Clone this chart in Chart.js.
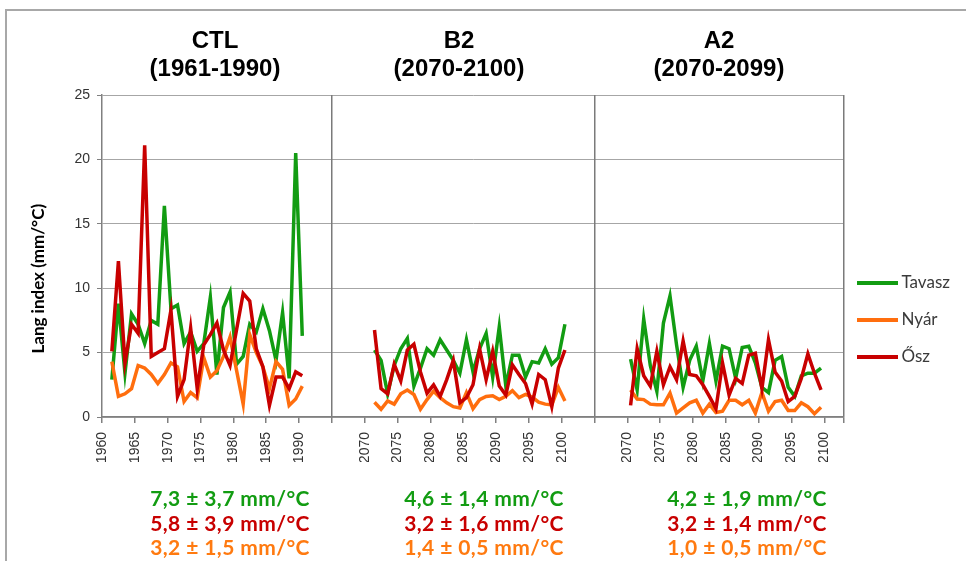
<!DOCTYPE html>
<html><head><meta charset="utf-8">
<script src="https://cdn.jsdelivr.net/npm/chart.js@4.4.1/dist/chart.umd.min.js"></script>
<style>
html,body{margin:0;padding:0;background:#fff;}
#wrap{position:relative;width:966px;height:561px;overflow:hidden;background:#fff;}
#frame{position:absolute;left:5px;top:9px;width:980px;height:600px;border-top:2px solid #a8a8a8;border-left:2px solid #a8a8a8;}
#c{position:absolute;left:0;top:0;}
.ttl{position:absolute;top:26px;width:220px;text-align:center;font-family:"Liberation Sans",Arial,sans-serif;font-weight:bold;font-size:24px;line-height:28px;color:#000;}
.stats{position:absolute;top:486px;width:260px;text-align:center;font-family:Lato,sans-serif;font-weight:bold;font-size:21px;letter-spacing:0.4px;line-height:24.5px;}
</style></head>
<body><div id="wrap"><div id="frame"></div><canvas id="c" width="966" height="561"></canvas></div>
<script>
// ---- data ----
const ctlYears = [1961,1962,1963,1964,1965,1966,1967,1968,1969,1970,1971,1972,1973,1974,1975,1976,1977,1978,1979,1980,1981,1982,1983,1984,1985,1986,1987,1988,1989,1990];
const b2Years  = [2071,2072,2073,2074,2075,2076,2077,2078,2079,2080,2081,2082,2083,2084,2085,2086,2087,2088,2089,2090,2091,2092,2093,2094,2095,2096,2097,2098,2099,2100];
const a2Years  = [2070,2071,2072,2073,2074,2075,2076,2077,2078,2079,2080,2081,2082,2083,2084,2085,2086,2087,2088,2089,2090,2091,2092,2093,2094,2095,2096,2097,2098,2099];

const ctlTavasz = [2.9,8.8,3.4,8.0,7.2,5.7,7.5,7.2,16.4,8.4,8.7,5.7,6.6,5.1,5.7,9.3,3.3,8.5,9.7,4.1,4.7,7.2,6.6,8.4,6.7,4.4,8.1,3.0,20.5,6.3];
const ctlNyar   = [4.3,1.6,1.8,2.2,4.0,3.8,3.3,2.6,3.3,4.2,3.9,1.2,1.9,1.5,4.6,3.1,3.6,4.7,6.2,3.6,1.0,6.4,5.0,3.9,2.2,4.3,3.7,0.9,1.4,2.4];
const ctlOsz    = [5.1,12.1,4.2,7.2,6.5,21.1,4.7,5.0,5.3,8.3,1.6,2.9,6.9,2.2,5.6,6.4,7.3,5.2,4.0,6.8,9.6,9.0,5.3,3.9,0.9,3.1,3.1,2.2,3.5,3.2];

const b2Tavasz = [5.2,4.4,1.8,4.0,5.3,6.1,2.4,3.8,5.3,4.8,6.0,5.2,4.4,3.4,6.0,3.5,5.3,6.5,3.1,7.0,2.4,4.8,4.8,3.1,4.3,4.2,5.3,4.1,4.6,7.2];
const b2Nyar   = [1.15,0.6,1.25,1.0,1.8,2.1,1.75,0.6,1.35,2.0,1.5,1.1,0.8,0.7,1.9,0.65,1.35,1.6,1.65,1.35,1.6,2.05,1.5,1.75,1.55,1.15,1.0,0.95,2.3,1.25];
const b2Osz    = [6.75,2.2,1.8,4.1,2.8,5.2,5.65,3.5,1.85,2.5,1.6,2.9,4.4,1.1,1.5,2.5,5.3,2.9,5.1,2.4,1.7,4.05,3.3,2.6,1.0,3.3,2.9,0.8,3.8,5.2];

const a2Tavasz = [4.5,2.1,7.6,4.0,2.0,7.3,9.4,5.6,2.3,4.4,5.5,2.8,5.7,2.8,5.5,5.3,3.0,5.4,5.5,4.2,2.3,1.9,4.4,4.7,2.3,1.6,3.2,3.4,3.4,3.8];
const a2Nyar   = [2.1,1.4,1.35,1.0,0.95,0.95,1.85,0.3,0.7,1.1,1.3,0.3,1.0,0.35,0.45,1.3,1.3,0.95,1.3,0.3,1.9,0.45,1.2,1.3,0.5,0.5,1.1,0.8,0.25,0.75];
const a2Osz    = [0.9,5.3,3.2,2.4,5.1,2.5,3.9,2.9,5.9,3.3,3.2,2.5,1.6,0.65,4.2,1.7,3.0,2.6,4.8,4.95,2.2,6.0,3.5,2.8,1.2,1.6,3.0,4.9,3.4,2.1];

const seriesNames = ['Tavasz','Nyár','Ősz'];
const ctlTickLabels = [1960,1965,1970,1975,1980,1985,1990];
const futTickLabels = [2070,2075,2080,2085,2090,2095,2100];
const yTickValues = [0,5,10,15,20,25];
const panelTitles = [['CTL','(1961-1990)'],['B2','(2070-2100)'],['A2','(2070-2099)']];
const statTexts = [
  ['7,3 ± 3,7 mm/°C','5,8 ± 3,9 mm/°C','3,2 ± 1,5 mm/°C'],
  ['4,6 ± 1,4 mm/°C','3,2 ± 1,6 mm/°C','1,4 ± 0,5 mm/°C'],
  ['4,2 ± 1,9 mm/°C','3,2 ± 1,4 mm/°C','1,0 ± 0,5 mm/°C']
];
const yTitle = 'Lang index (mm/°C)';

// ---- styles / layout ----
const seriesColors = ['#129c12','#ff6e0e','#c80000'];
const statColors = ['#129c12','#c80000','#ff7a10'];
const panels = [
  {id:'xCTL', years:ctlYears, series:[ctlTavasz,ctlNyar,ctlOsz], min:1960, max:1995, labels:ctlTickLabels, titleX:215, statX:230},
  {id:'xB2',  years:b2Years,  series:[b2Tavasz,b2Nyar,b2Osz],    min:2065, max:2105, labels:futTickLabels, titleX:459, statX:484},
  {id:'xA2',  years:a2Years,  series:[a2Tavasz,a2Nyar,a2Osz],    min:2065, max:2103, labels:futTickLabels, titleX:719, statX:747}
];

const wrap = document.getElementById('wrap');
panels.forEach((p,i)=>{
  const t = document.createElement('div');
  t.className='ttl'; t.style.left=(p.titleX-110)+'px';
  t.innerHTML = panelTitles[i][0]+'<br>'+panelTitles[i][1];
  wrap.appendChild(t);
  const s = document.createElement('div');
  s.className='stats'; s.style.left=(p.statX-130)+'px';
  s.innerHTML = statTexts[i].map((tx,k)=>'<div style="color:'+statColors[k]+'">'+tx+'</div>').join('');
  wrap.appendChild(s);
});

function lineIcon(color){
  const c=document.createElement('canvas'); c.width=43; c.height=4;
  const g=c.getContext('2d'); g.fillStyle=color; g.fillRect(0,0,41,4); return c;
}
const icons = seriesColors.map(lineIcon);

const legendFontSize = 17;
const mctx = document.createElement('canvas').getContext('2d');
mctx.font = legendFontSize + 'px Lato';
const maxText = Math.max(...seriesNames.map(n=>mctx.measureText(n).width));
const legendPad = 20, legendBoxW = 29;
const legendWidth = legendPad + legendBoxW + legendFontSize/2 + maxText + 10;
const plotRight = 844;
const padRight = Math.max(0, 966 - plotRight - legendWidth);

// shift the rotated y title toward the bottom (as in the original)
mctx.font = 'bold 17px Lato';
const spaceW = mctx.measureText('\u00a0').width || 3.4;
const yTitleText = yTitle + '\u00a0'.repeat(Math.round(44 / spaceW));

const datasets = [];
panels.forEach(p=>{
  p.series.forEach((vals,s)=>{
    datasets.push({
      label: seriesNames[s],
      data: p.years.map((yr,i)=>({x: yr+0.5, y: vals[i]})),
      xAxisID: p.id, yAxisID:'y',
      borderColor: seriesColors[s], backgroundColor: seriesColors[s],
      borderWidth: 3.5, pointRadius: 0, pointHoverRadius: 0, tension: 0,
      order: 2 - s
    });
  });
});

const scales = {
  y: {
    position:'left', min:0, max:25,
    afterBuildTicks: ax => { ax.ticks = yTickValues.map(v=>({value:v})); },
    afterFit: sc => { sc.width = 82; },
    ticks:{ font:{family:'Liberation Sans', size:14}, color:'#333', padding:7 },
    grid:{ color:'#a6a6a6', lineWidth:1, tickLength:5, tickColor:'#808080' },
    border:{ display:true, color:'#808080', width:1.5 },
    title:{ display:true, text:yTitleText, font:{family:'Lato', size:17, weight:'bold'}, color:'#000', padding:{top:8, bottom:0} }
  }
};
panels.forEach(p=>{
  scales[p.id] = {
    type:'linear', position:'bottom', stack:'years', stackWeight: p.max - p.min,
    min:p.min, max:p.max, offset:false,
    afterBuildTicks: ax => { ax.ticks = p.labels.concat([p.max]).map(v=>({value:v})); },
    afterFit: sc => { sc.height = 45; },
    ticks:{ autoSkip:false, minRotation:90, maxRotation:90, padding:9,
      font:{family:'Liberation Sans', size:14}, color:'#333',
      callback: v => p.labels.includes(v) ? String(v) : '' },
    grid:{ lineWidth:1.5, tickLength:6, tickColor:'#808080',
      color: c => (c.tick && c.tick.value === p.max) ? '#7a7a7a' : 'rgba(0,0,0,0)' },
    border:{ display:true, color:'#808080', width:1.5 }
  };
});

new Chart(document.getElementById('c'), {
  type:'line',
  data:{ datasets },
  options:{
    responsive:false, animation:false, events:[],
    layout:{ padding:{ left:20, top:95, right:padRight, bottom:99 } },
    scales,
    plugins:{
      tooltip:{enabled:false},
      legend:{
        position:'right', align:'center',
        title:{ display:true, text:'', padding:{top:68.6, bottom:0} },
        labels:{
          usePointStyle:true, pointStyleWidth:legendBoxW, padding:legendPad,
          font:{family:'Lato', size:legendFontSize}, color:'#3a3a3a',
          generateLabels: () => seriesNames.map((n,s)=>({
            text:n, fillStyle:seriesColors[s], strokeStyle:seriesColors[s], lineWidth:0,
            pointStyle:icons[s], hidden:false, datasetIndex:s, fontColor:'#3a3a3a'
          }))
        }
      }
    }
  }
});
</script>
</body></html>
